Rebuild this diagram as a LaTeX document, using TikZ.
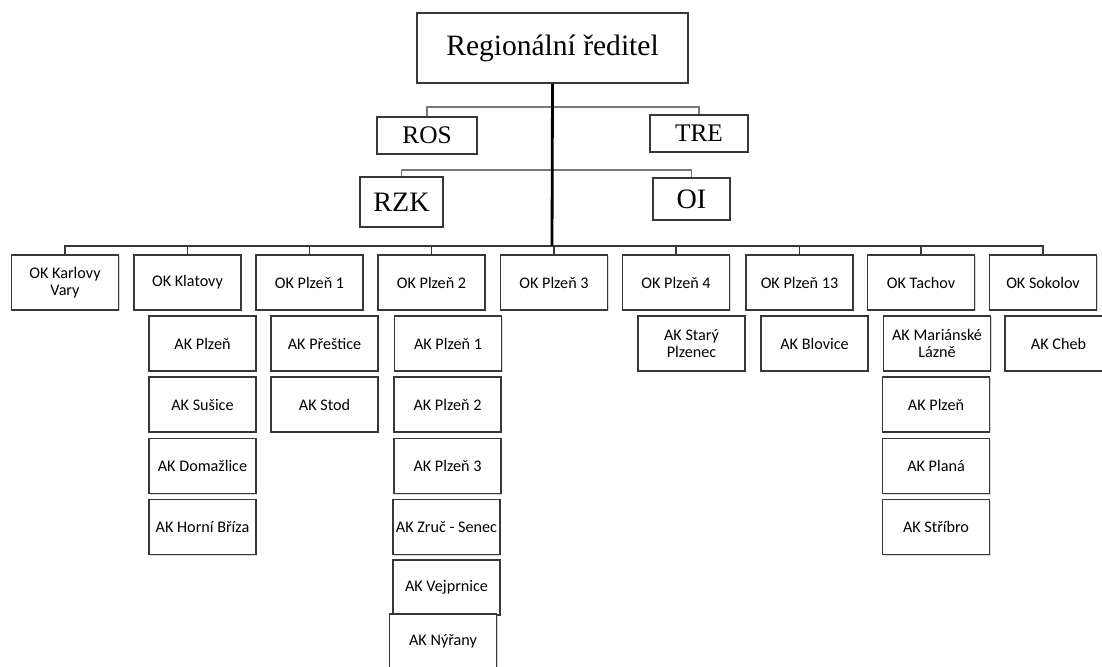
\documentclass[tikz,border=0pt]{standalone}
\usepackage{fontspec}
\setmainfont{Liberation Serif}
\newfontfamily\boxfont{Carlito}
\usetikzlibrary{positioning,shadows}
\definecolor{boxline}{RGB}{55,55,55}
\definecolor{barline}{RGB}{120,120,120}

\begin{document}
\begin{tikzpicture}[x=0.025cm,y=-0.025cm,
  box/.style={draw=boxline,line width=1.1pt,fill=white,inner sep=1pt,align=center,
    drop shadow={shadow xshift=1pt,shadow yshift=-1pt,opacity=0.3}},
  headbox/.style={box,font=\fontsize{20}{24}\selectfont},
  staffbox/.style={box,font=\fontsize{18}{22}\selectfont},
  unitbox/.style={box,font=\boxfont\fontsize{11.5}{12.5}\selectfont,
    minimum width=2.675cm,minimum height=1.375cm},
  bar/.style={barline,line width=0.8pt}]
\clip (0,0) rectangle (1102,666);
\fill[white] (0,0) rectangle (1102,666);

% head and staff
\node[headbox,minimum width=6.775cm,minimum height=1.75cm,font=\fontsize{21}{25}\selectfont] (reditel) at (552.5,48) {Regionální ředitel};
\node[staffbox,minimum width=2.5cm,minimum height=0.925cm] (ros) at (427,135.5) {ROS};
\node[staffbox,minimum width=2.45cm,minimum height=0.925cm] (tre) at (699,133.5) {TRE};
\node[headbox,minimum width=2.075cm,minimum height=1.25cm] (rzk) at (401.5,202) {RZK};
\node[headbox,minimum width=1.925cm,minimum height=1.05cm] (oi) at (691.5,199) {OI};

\coordinate (rosbar) at (552,107);
\coordinate (rzkbar) at (552,170);
\coordinate (bus) at (552,246);

% OK row
\node[unitbox] (ok1) at (65,282.5) {OK Karlovy\\Vary};
\node[unitbox] (ok2) at (187.5,282.5) {OK Klatovy};
\node[unitbox] (ok3) at (309.5,282.5) {OK Plzeň 1};
\node[unitbox] (ok4) at (431.5,282.5) {OK Plzeň 2};
\node[unitbox] (ok5) at (554,282.5) {OK Plzeň 3};
\node[unitbox] (ok6) at (676,282.5) {OK Plzeň 4};
\node[unitbox] (ok7) at (799.5,282.5) {OK Plzeň 13};
\node[unitbox] (ok8) at (921,282.5) {OK Tachov};
\node[unitbox] (ok9) at (1043,282.5) {OK Sokolov};

% AK boxes
\node[unitbox] (klPlzen) at (202.5,343.5) {AK Plzeň};
\node[unitbox] (klSusice) at (202.5,404.5) {AK Sušice};
\node[unitbox] (klDomazlice) at (202.5,466) {AK Domažlice};
\node[unitbox] (klBriza) at (202.5,527) {AK Horní Bříza};

\node[unitbox] (plPrestice) at (324.5,343.5) {AK Přeštice};
\node[unitbox] (plStod) at (324.5,404.5) {AK Stod};

\node[unitbox] (pdPlzenA) at (448,343.5) {AK Plzeň 1};
\node[unitbox] (pdPlzenB) at (447.5,404.5) {AK Plzeň 2};
\node[unitbox] (pdPlzenC) at (447.5,466) {AK Plzeň 3};
\node[unitbox] (pdZruc) at (446.5,527) {AK Zruč - Senec};
\node[unitbox] (pdVejprnice) at (446.5,587.5) {AK Vejprnice};
\node[unitbox] (pdNyrany) at (443,641.5) {AK Nýřany};

\node[unitbox] (pcStary) at (691.5,343.5) {AK Starý\\Plzenec};
\node[unitbox] (ptBlovice) at (814.5,343.5) {AK Blovice};

\node[unitbox] (taLazne) at (937,343.5) {AK Mariánské\\Lázně};
\node[unitbox] (taPlzen) at (936,404.5) {AK Plzeň};
\node[unitbox] (taPlana) at (936,466) {AK Planá};
\node[unitbox] (taStribro) at (936,527) {AK Stříbro};

\node[unitbox] (soCheb) at (1058.5,343.5) {AK Cheb};

% connectors
\draw[bar] (ros.north) -- (ros.north |- rosbar) -- (tre.north |- rosbar) -- (tre.north);
\draw[bar] (rzk.north) -- (rzk.north |- rzkbar) -- (oi.north |- rzkbar) -- (oi.north);
\draw[boxline,line width=1pt] (ok1.north) -- (ok1.north |- bus) -- (ok9.north |- bus) -- (ok9.north);
\foreach \k in {ok2,ok3,ok4,ok5,ok6,ok7,ok8}
  \draw[boxline,line width=1pt] (\k.north) -- (\k.north |- bus);
\draw[black,line width=2pt] (reditel.south) -- (bus);
\end{tikzpicture}
\end{document}
